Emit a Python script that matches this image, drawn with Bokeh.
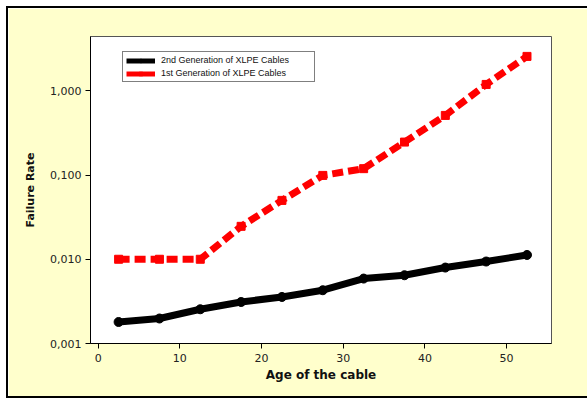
from bokeh.plotting import figure
from bokeh.models import Legend, LegendItem, FixedTicker, Range1d, ColumnDataSource
from bokeh.embed import file_html
from bokeh.resources import INLINE

# ---- data ----
age = [2.5, 7.5, 12.5, 17.5, 22.5, 27.5, 32.5, 37.5, 42.5, 47.5, 52.5]
gen2_rate = [0.0018, 0.00198, 0.00255, 0.00311, 0.00357, 0.00429, 0.0059, 0.00646, 0.00797, 0.0094, 0.01125]
gen1_rate = [0.01, 0.01, 0.01, 0.0246, 0.050, 0.099, 0.119, 0.246, 0.51, 1.19, 2.56]
gen2_label = "2nd Generation of XLPE Cables"
gen1_label = "1st Generation of XLPE Cables"
y_ticks = [0.001, 0.01, 0.1, 1.0]
y_tick_labels = ["0,001", "0,010", "0,100", "1,000"]
x_ticks = [0, 10, 20, 30, 40, 50]

BG = "#FFFFCC"

p = figure(width=581, height=392, y_axis_type="log",
           x_range=Range1d(-0.94, 55.5), y_range=Range1d(0.001, 4.41),
           output_backend="svg", toolbar_location=None,
           min_border_left=82, min_border_right=38, min_border_top=28, min_border_bottom=57,
           styles={"border-top": "2px solid black", "border-left": "2px solid black",
                   "border-bottom": "2px solid black", "margin-left": "6px", "margin-top": "6px"})
p.background_fill_color = "white"
p.border_fill_color = BG
p.outline_line_color = "#555555"
p.outline_line_width = 1
p.grid.visible = False

# axes
p.xaxis.ticker = FixedTicker(ticks=x_ticks)
p.yaxis.ticker = FixedTicker(ticks=y_ticks)
p.yaxis.major_label_overrides = {t: l for t, l in zip(y_ticks, y_tick_labels)}
for ax in (p.xaxis[0], p.yaxis[0]):
    ax.minor_tick_line_color = None
    ax.major_tick_in = 0
    ax.major_tick_out = 5
    ax.major_tick_line_color = "black"
    ax.axis_line_color = "black"
    ax.major_label_text_font = "DejaVu Sans"
    ax.major_label_text_font_size = "11px"
    ax.major_label_text_color = "#222222"
    ax.axis_label_text_font = "DejaVu Sans"
    ax.axis_label_text_font_style = "bold"
    ax.axis_label_text_color = "#111111"
p.xaxis.major_label_standoff = 5
p.yaxis.major_label_standoff = 4
p.xaxis.axis_label = "Age of the cable"
p.xaxis.axis_label_text_font_size = "12px"
p.xaxis.axis_label_standoff = 3
p.yaxis.axis_label = "Failure Rate"
p.yaxis.axis_label_text_font_size = "11px"
p.yaxis.axis_label_standoff = 10

src = ColumnDataSource(dict(age=age, gen2=gen2_rate, gen1=gen1_rate))

# 1st generation: red dashed
p.line("age", "gen1", source=src, line_color="red", line_width=7, line_dash="11 5")
r1m = p.scatter("age", "gen1", source=src, marker="square", size=8, fill_color="red", line_color="red")

# 2nd generation: black solid
p.line("age", "gen2", source=src, line_color="black", line_width=7,
       line_cap="round", line_join="round")
r2m = p.scatter("age", "gen2", source=src, marker="circle", size=9, fill_color="black", line_color="black")

# legend-only line renderers (placed outside the visible range)
off = ColumnDataSource(dict(x=[-100, -99], y=[1e-6, 1e-6]))
l2 = p.line("x", "y", source=off, line_color="black", line_width=5)
l1 = p.line("x", "y", source=off, line_color="red", line_width=5)

legend = Legend(items=[LegendItem(label=gen2_label, renderers=[l2, r2m]),
                       LegendItem(label=gen1_label, renderers=[l1, r1m])],
                location=(32, 261))
legend.margin = 0
legend.padding = 3
legend.spacing = 3
legend.glyph_width = 29
legend.glyph_height = 9
legend.label_height = 9
legend.label_width = 150
legend.label_standoff = 6
legend.label_text_font = "Liberation Sans"
legend.label_text_font_size = "9px"
legend.label_text_color = "#111111"
legend.border_line_color = "black"
legend.border_line_width = 1
legend.background_fill_color = "white"
legend.background_fill_alpha = 1
p.add_layout(legend)

open("out.html", "w").write(file_html(p, INLINE))
